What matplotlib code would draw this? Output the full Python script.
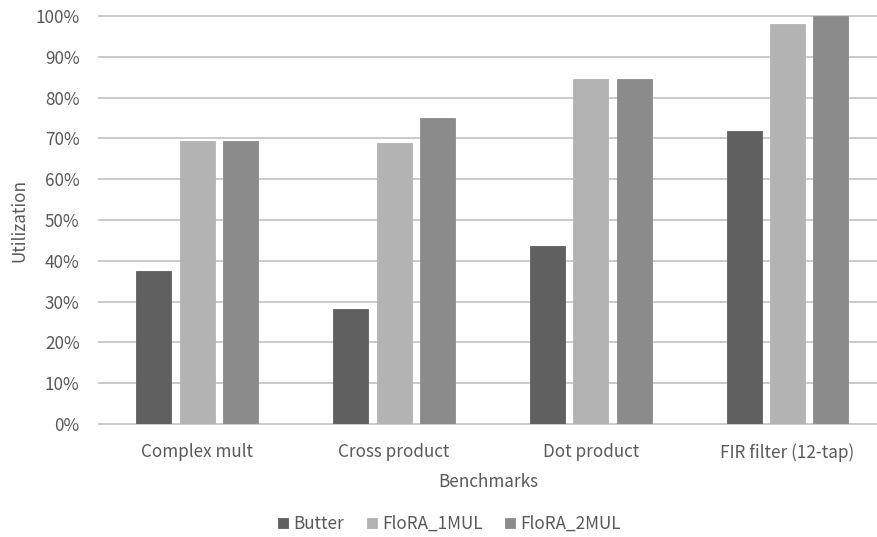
import matplotlib.pyplot as plt
import numpy as np
from matplotlib.ticker import PercentFormatter

benchmarks = ["Complex mult", "Cross product", "Dot product", "FIR filter (12-tap)"]
butter = [37.5, 28.1, 43.7, 71.8]
flora_1mul = [69.3, 68.8, 84.5, 98.0]
flora_2mul = [69.3, 75.0, 84.5, 100.0]

series = [
    ("Butter", butter, "#606060"),
    ("FloRA_1MUL", flora_1mul, "#b3b3b3"),
    ("FloRA_2MUL", flora_2mul, "#8b8b8b"),
]

plt.rcParams["font.family"] = ["Noto Sans CJK KR", "DejaVu Sans"]
text_color = "#595959"
fs = 12.3

fig = plt.figure(figsize=(8.78, 5.37), dpi=100)
ax = fig.add_axes([98.9 / 878, 113 / 537, 1 - 98.9 / 878, 408 / 537])

x = np.arange(len(benchmarks))
width = 0.178
step = 0.22
for i, (name, vals, color) in enumerate(series):
    ax.bar(x + (i - 1) * step, vals, width, color=color, label=name,
           edgecolor=color, linewidth=0.6, zorder=3)

ax.set_xlim(-0.5, 3.46)
ax.set_ylim(0, 100)
ax.set_yticks(np.arange(0, 101, 10))
ax.yaxis.set_major_formatter(PercentFormatter(decimals=0))
ax.set_xticks(x)
ax.set_xticklabels(benchmarks)

ax.grid(axis="y", color="#c6c6c6", linewidth=1.3, zorder=0)
for gl in ax.get_ygridlines():
    gl.set_clip_on(False)
for s in ax.spines.values():
    s.set_visible(False)
ax.tick_params(axis="both", length=0, colors=text_color, labelsize=fs)
ax.tick_params(axis="y", pad=14)
ax.tick_params(axis="x", pad=14)

ax.set_xlabel("Benchmarks", color=text_color, fontsize=fs, labelpad=8)
ax.set_ylabel("Utilization", color=text_color, fontsize=fs, labelpad=5)

ax.legend(loc="center", bbox_to_anchor=(0.45, -0.245), ncol=3,
          frameon=False, fontsize=fs, handlelength=0.6, handleheight=0.6,
          handletextpad=0.3, columnspacing=1.3, labelcolor=text_color)

fig.savefig("out.png", dpi=100)
